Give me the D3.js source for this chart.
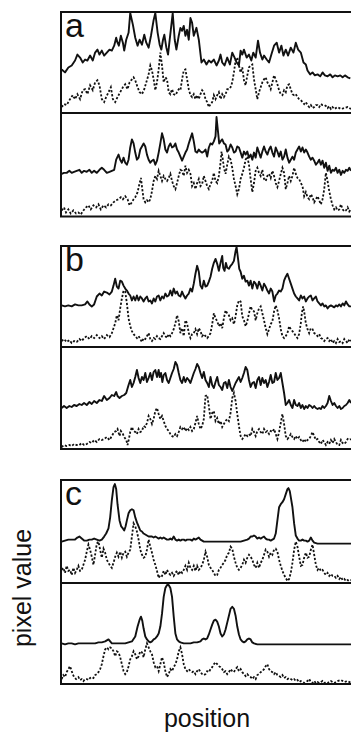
<!DOCTYPE html>
<html><head><meta charset="utf-8">
<script src="https://cdn.jsdelivr.net/npm/d3@7/dist/d3.min.js"></script>
<style>html,body{margin:0;padding:0;background:#fff;overflow:hidden}</style>
</head><body>
<script>
// ---- data: [position, pixel value] ----
const a1Solid = [[2,43],[12,40],[22,45],[32,47],[42,52],[49,58],[57,55],[65,50],[72,53],[79,52],[87,57],[95,52],[102,60],[109,63],[115,58],[122,62],[129,57],[137,60],[145,63],[152,62],[159,67],[165,75],[169,70],[173,67],[179,77],[185,70],[189,62],[195,73],[202,80],[207,100],[215,88],[222,75],[229,67],[235,73],[242,68],[249,78],[255,70],[262,65],[269,77],[277,93],[282,100],[289,80],[295,68],[300,63],[305,73],[309,78],[315,65],[320,58],[325,73],[329,85],[334,100],[340,73],[345,63],[352,77],[357,85],[362,82],[367,87],[372,77],[377,83],[382,73],[387,95],[392,90],[397,77],[405,85],[412,73],[420,50],[427,53],[435,48],[442,52],[449,50],[457,53],[465,47],[472,52],[477,58],[482,50],[489,47],[497,55],[505,48],[512,60],[519,55],[525,50],[532,47],[537,62],[542,58],[547,63],[555,55],[562,58],[569,52],[575,60],[582,55],[589,72],[595,60],[602,53],[607,57],[615,53],[622,50],[629,58],[637,67],[645,70],[652,60],[659,67],[665,57],[672,63],[679,57],[687,65],[695,60],[702,70],[709,63],[717,60],[725,50],[732,48],[737,42],[745,38],[752,40],[759,37],[767,38],[775,36],[782,40],[789,37],[797,36],[805,38],[812,35],[819,37],[827,36],[835,37],[842,35],[849,37],[857,35],[865,34]];
const a1Dotted = [[2,5],[9,8],[17,7],[27,13],[35,17],[42,13],[49,18],[57,13],[65,22],[72,23],[79,18],[87,27],[95,22],[102,30],[109,32],[115,27],[122,13],[129,10],[135,15],[142,20],[149,25],[155,13],[162,10],[169,15],[177,20],[185,25],[192,28],[199,23],[205,30],[212,33],[217,35],[222,32],[229,25],[235,20],[242,18],[249,23],[255,30],[262,38],[267,47],[272,42],[277,33],[282,22],[287,30],[292,43],[297,60],[302,47],[307,30],[312,35],[317,33],[322,20],[327,18],[332,23],[337,18],[342,17],[347,20],[352,23],[357,22],[362,33],[367,42],[372,43],[377,33],[382,23],[387,17],[392,15],[397,18],[402,13],[407,17],[412,13],[417,18],[422,22],[427,20],[432,13],[437,10],[442,5],[447,8],[452,10],[457,17],[462,13],[467,17],[472,20],[477,13],[482,18],[487,15],[492,18],[497,23],[502,23],[507,25],[512,30],[517,40],[522,52],[527,55],[532,47],[537,40],[542,45],[547,32],[552,27],[557,37],[562,45],[567,47],[572,48],[577,33],[582,23],[587,13],[592,20],[597,25],[602,30],[607,33],[612,35],[617,30],[622,27],[627,23],[632,30],[637,37],[642,33],[647,28],[652,22],[657,18],[662,17],[667,22],[672,20],[677,27],[682,28],[687,23],[692,18],[697,17],[702,18],[707,15],[712,13],[717,12],[722,10],[727,8],[732,10],[737,7],[742,5],[747,7],[752,4],[757,5],[762,7],[767,7],[772,5],[777,8],[782,7],[787,7],[792,6],[797,4],[802,6],[807,3],[812,5],[817,3],[827,5],[837,3],[847,4],[857,5],[867,3]];
const a2Solid = [[2,41],[9,42],[17,42],[25,44],[32,42],[39,43],[47,44],[55,45],[62,42],[69,44],[77,43],[85,45],[92,42],[99,44],[107,42],[115,45],[122,47],[129,45],[137,42],[145,43],[152,44],[159,45],[165,55],[172,60],[177,55],[182,52],[187,57],[192,52],[197,50],[202,55],[207,67],[212,75],[217,71],[222,62],[227,55],[232,57],[237,65],[242,68],[247,71],[252,68],[257,60],[262,55],[267,52],[272,54],[277,55],[282,50],[287,54],[292,62],[297,71],[302,81],[307,75],[312,65],[317,62],[322,68],[327,71],[332,67],[337,68],[342,71],[347,65],[352,62],[357,58],[362,54],[367,58],[372,62],[377,65],[382,71],[387,76],[392,81],[397,73],[402,63],[407,62],[412,65],[417,63],[422,62],[427,63],[432,65],[437,58],[442,67],[447,71],[452,70],[457,73],[462,78],[465,97],[469,84],[473,71],[477,73],[482,75],[487,71],[492,70],[497,63],[502,65],[507,70],[512,67],[517,62],[522,63],[527,68],[532,67],[537,62],[542,57],[547,63],[552,60],[557,63],[562,57],[567,60],[572,55],[577,62],[582,57],[587,67],[592,62],[597,57],[602,63],[607,68],[612,63],[617,60],[622,65],[627,68],[632,62],[637,58],[642,67],[647,63],[652,58],[657,63],[662,55],[667,58],[672,65],[677,57],[682,52],[687,55],[692,58],[697,55],[702,62],[707,65],[712,68],[717,63],[722,67],[727,62],[732,65],[737,62],[742,58],[747,55],[752,57],[757,54],[762,50],[767,52],[772,55],[777,50],[782,54],[787,47],[792,52],[797,44],[802,49],[807,42],[812,45],[817,44],[822,47],[827,42],[832,45],[837,40],[842,44],[847,42],[852,45],[857,44],[862,47],[867,44]];
const a2Dotted = [[2,5],[9,8],[15,3],[22,6],[29,2],[37,5],[45,2],[52,3],[59,1],[67,5],[75,8],[82,10],[89,6],[97,10],[105,8],[112,11],[119,6],[127,10],[135,8],[142,11],[149,10],[157,13],[165,15],[172,16],[179,18],[185,16],[192,19],[199,16],[205,10],[212,13],[217,16],[222,18],[229,23],[235,32],[239,37],[243,26],[247,16],[252,13],[257,15],[262,13],[267,16],[272,24],[277,34],[282,39],[287,36],[292,44],[297,39],[302,34],[307,39],[312,36],[317,34],[322,37],[327,41],[332,34],[337,29],[342,26],[347,32],[352,39],[357,45],[362,44],[367,39],[372,49],[377,42],[382,45],[387,41],[392,29],[397,32],[402,26],[407,32],[412,36],[417,29],[422,31],[427,39],[432,34],[437,29],[442,26],[447,31],[452,34],[457,42],[462,34],[467,32],[472,39],[477,52],[480,63],[484,55],[487,47],[492,41],[497,50],[502,58],[507,55],[512,47],[517,36],[522,29],[527,21],[532,26],[537,36],[542,41],[547,47],[552,55],[557,58],[562,50],[567,36],[572,23],[577,32],[582,44],[587,47],[592,42],[597,39],[602,45],[607,36],[612,34],[617,39],[622,41],[627,37],[632,44],[637,39],[642,32],[647,28],[652,34],[657,41],[662,47],[667,42],[672,26],[677,32],[682,39],[687,34],[692,39],[697,47],[702,41],[707,37],[712,36],[717,32],[722,29],[727,19],[732,23],[737,18],[742,16],[747,21],[752,18],[757,13],[762,16],[767,19],[772,15],[777,11],[782,16],[787,26],[792,42],[797,34],[802,24],[807,16],[812,10],[817,6],[822,8],[827,5],[832,6],[837,11],[842,6],[847,4],[852,5],[857,8],[862,4],[867,6]];
const b1Solid = [[2,41],[12,40],[22,41],[32,40],[42,42],[52,41],[62,41],[72,42],[79,45],[85,42],[92,40],[99,42],[107,50],[115,53],[122,51],[129,55],[137,54],[145,52],[152,55],[157,61],[162,68],[167,60],[172,58],[177,66],[182,65],[187,61],[192,58],[197,56],[202,53],[207,51],[212,46],[217,50],[222,46],[227,51],[232,46],[237,50],[242,48],[247,45],[252,48],[257,50],[262,45],[267,46],[272,43],[277,48],[282,45],[287,50],[292,51],[297,46],[302,50],[307,48],[312,53],[317,50],[322,51],[327,56],[332,51],[337,58],[342,53],[347,55],[352,51],[357,50],[362,55],[367,51],[372,48],[377,51],[382,53],[387,58],[392,55],[397,63],[402,73],[407,81],[412,75],[417,61],[422,58],[427,66],[432,60],[437,61],[442,65],[447,70],[452,78],[457,84],[462,88],[467,83],[472,76],[477,84],[482,91],[485,79],[489,76],[493,84],[497,79],[502,78],[507,81],[512,83],[517,86],[522,96],[525,100],[529,89],[533,78],[537,75],[542,68],[547,71],[552,65],[557,66],[562,61],[567,66],[572,58],[577,65],[582,63],[587,58],[592,65],[597,61],[602,56],[607,63],[612,60],[617,56],[622,53],[627,58],[632,55],[637,45],[642,51],[647,53],[652,56],[657,55],[662,58],[667,66],[672,70],[677,73],[682,68],[687,63],[692,58],[697,53],[702,50],[707,48],[712,46],[717,51],[722,48],[727,50],[732,45],[737,48],[742,50],[747,51],[752,46],[757,48],[762,50],[767,45],[772,43],[777,41],[782,43],[787,40],[792,41],[797,38],[802,40],[807,41],[812,40],[817,39],[822,41],[827,40],[832,42],[837,40],[842,43],[847,41],[852,45],[857,42],[862,40],[867,40]];
const b1Dotted = [[2,5],[9,7],[17,4],[25,6],[32,3],[39,5],[47,4],[55,7],[62,5],[69,8],[77,10],[85,7],[92,10],[99,8],[107,11],[115,8],[122,10],[129,7],[137,11],[145,9],[152,13],[157,18],[162,23],[167,31],[172,26],[177,38],[182,48],[187,56],[192,55],[197,43],[202,28],[207,20],[212,15],[217,12],[222,10],[227,8],[232,10],[237,7],[242,4],[247,8],[252,7],[257,10],[262,13],[267,7],[272,5],[277,8],[282,7],[287,10],[292,8],[297,7],[302,10],[307,13],[312,10],[317,8],[322,12],[327,10],[332,13],[337,17],[342,23],[347,31],[352,25],[357,13],[362,18],[367,10],[372,26],[377,23],[382,13],[387,8],[392,12],[397,13],[402,17],[407,12],[412,18],[417,15],[422,10],[427,12],[432,10],[437,8],[442,10],[447,13],[452,22],[457,33],[462,28],[467,25],[472,20],[477,23],[482,18],[487,28],[492,36],[497,33],[502,31],[507,26],[512,28],[517,22],[522,30],[527,41],[532,46],[537,45],[542,30],[547,26],[552,20],[557,25],[562,33],[567,40],[572,36],[577,35],[582,26],[587,33],[592,38],[597,40],[602,33],[607,26],[612,18],[617,12],[622,17],[627,22],[632,25],[637,35],[642,41],[647,36],[652,28],[657,17],[662,10],[667,8],[672,10],[677,13],[682,20],[687,17],[692,15],[697,13],[702,10],[707,8],[712,12],[717,23],[720,33],[724,40],[727,35],[732,23],[737,17],[742,13],[747,18],[752,17],[757,13],[762,12],[767,10],[772,12],[777,8],[782,7],[787,5],[792,7],[797,8],[802,5],[807,7],[812,3],[817,5],[822,3],[827,7],[832,4],[837,5],[842,3],[847,7],[852,5],[857,3],[862,7],[867,5]];
const b2Solid = [[2,40],[9,42],[17,40],[25,42],[32,41],[39,43],[47,42],[55,44],[62,43],[69,45],[77,43],[85,46],[92,44],[99,47],[107,45],[115,48],[122,47],[129,52],[137,48],[145,50],[152,53],[159,52],[165,56],[169,52],[175,50],[182,52],[189,53],[195,55],[202,63],[207,68],[212,61],[217,65],[222,71],[227,78],[232,70],[237,65],[242,71],[247,68],[252,75],[257,66],[262,70],[267,75],[272,68],[277,76],[282,78],[287,71],[292,78],[295,71],[299,75],[303,66],[307,73],[312,75],[317,68],[322,65],[327,70],[332,75],[337,79],[342,86],[347,83],[352,75],[357,68],[362,65],[367,71],[372,66],[377,70],[382,68],[387,65],[392,70],[397,75],[402,79],[407,84],[412,81],[417,75],[422,70],[427,76],[432,68],[437,65],[442,61],[447,71],[452,63],[457,60],[462,66],[467,71],[472,63],[477,61],[482,58],[487,65],[492,66],[497,60],[502,68],[507,61],[512,57],[517,61],[522,65],[527,68],[532,71],[537,66],[542,70],[547,75],[552,81],[557,78],[562,68],[567,61],[572,65],[577,66],[582,60],[587,68],[592,71],[597,63],[602,70],[607,65],[612,68],[617,61],[622,66],[627,73],[632,65],[637,66],[642,75],[647,68],[652,70],[657,75],[662,65],[667,55],[672,43],[677,45],[682,48],[687,43],[692,40],[697,48],[702,43],[707,42],[712,45],[717,40],[722,43],[727,39],[732,42],[737,40],[742,43],[747,42],[752,40],[757,42],[762,40],[767,39],[772,40],[777,39],[782,42],[787,40],[792,42],[797,45],[802,52],[807,47],[812,43],[817,45],[822,42],[827,40],[832,42],[837,39],[842,40],[847,42],[852,43],[857,45],[862,48],[867,45]];
const b2Dotted = [[2,1],[9,3],[17,2],[25,3],[32,2],[39,4],[47,3],[55,3],[62,5],[69,3],[77,4],[85,6],[92,5],[99,8],[107,6],[115,9],[122,8],[129,9],[137,11],[145,8],[152,12],[159,16],[165,17],[169,19],[175,12],[179,17],[185,14],[189,11],[195,8],[199,3],[203,9],[207,16],[212,21],[217,17],[222,16],[227,14],[232,19],[237,16],[242,17],[247,22],[252,21],[257,25],[262,32],[267,29],[272,24],[277,29],[282,37],[287,40],[292,34],[297,29],[302,32],[307,27],[312,22],[317,19],[322,17],[327,14],[332,12],[337,11],[342,14],[347,12],[352,16],[357,21],[362,19],[367,21],[372,17],[377,20],[382,18],[387,21],[392,17],[397,19],[402,25],[407,32],[412,24],[417,19],[422,22],[427,29],[432,52],[437,53],[442,42],[447,29],[452,35],[457,37],[462,27],[467,30],[472,24],[477,27],[482,21],[487,24],[492,27],[497,29],[502,27],[507,35],[512,50],[517,55],[522,47],[527,34],[532,22],[537,12],[542,9],[547,11],[552,14],[557,12],[562,14],[567,12],[572,19],[577,16],[582,12],[587,17],[592,19],[597,16],[602,14],[607,19],[612,16],[617,17],[622,14],[627,17],[632,16],[637,19],[642,14],[647,9],[652,16],[657,25],[662,34],[667,24],[672,12],[677,9],[682,11],[687,14],[692,11],[697,9],[702,12],[707,9],[712,11],[717,8],[722,6],[727,9],[732,6],[737,8],[742,9],[747,12],[752,16],[757,12],[762,8],[767,9],[772,6],[777,4],[782,8],[787,6],[792,3],[797,6],[802,4],[807,8],[812,5],[817,9],[822,6],[827,3],[832,3],[837,8],[842,5],[847,4],[852,6],[857,9],[862,8],[867,9]];
const c1Solid = [[2,40],[12,41],[22,42],[32,42],[42,42],[49,44],[55,45],[62,43],[69,41],[77,41],[85,42],[92,42],[99,43],[107,42],[115,41],[122,42],[129,45],[135,48],[142,53],[147,64],[152,81],[157,94],[161,97],[165,92],[169,77],[175,61],[180,55],[185,53],[189,51],[193,55],[197,61],[202,68],[207,71],[212,72],[217,71],[222,64],[227,59],[232,55],[237,51],[242,50],[247,48],[252,47],[257,46],[262,45],[267,45],[272,45],[277,44],[282,45],[287,44],[292,43],[297,44],[302,43],[307,44],[312,43],[317,42],[322,42],[327,43],[332,42],[337,45],[342,42],[347,41],[352,42],[357,41],[362,42],[367,42],[372,41],[377,42],[382,42],[387,42],[392,41],[397,43],[402,42],[407,43],[412,44],[417,42],[422,41],[427,40],[437,40],[447,40],[457,40],[467,40],[477,40],[487,40],[497,40],[507,40],[517,40],[527,40],[537,40],[547,41],[557,42],[562,43],[567,45],[572,45],[577,46],[582,45],[587,43],[592,44],[597,43],[602,44],[607,45],[612,43],[617,42],[622,42],[627,41],[632,42],[637,43],[642,48],[647,61],[652,74],[657,77],[662,79],[667,82],[672,87],[677,92],[680,93],[684,90],[687,84],[692,74],[697,58],[702,46],[707,43],[712,41],[717,41],[722,42],[727,41],[732,41],[737,40],[742,41],[747,44],[752,41],[757,39],[767,38],[777,38],[787,38],[797,38],[807,38],[817,38],[827,38],[837,38],[847,38],[857,38],[867,38]];
const c1Dotted = [[2,12],[7,14],[12,9],[17,16],[22,11],[27,12],[32,7],[37,14],[42,9],[47,12],[52,16],[57,11],[62,12],[67,17],[72,22],[77,30],[82,37],[87,32],[92,25],[97,17],[102,27],[107,38],[112,40],[117,32],[122,24],[127,33],[132,29],[137,22],[142,19],[147,16],[152,14],[157,19],[162,25],[167,29],[172,25],[177,30],[182,24],[187,29],[192,30],[197,25],[202,29],[207,32],[212,45],[217,58],[222,55],[227,50],[232,42],[237,32],[242,27],[247,24],[252,25],[257,32],[262,42],[267,35],[272,29],[277,22],[282,17],[287,11],[292,4],[297,7],[302,6],[307,11],[312,7],[317,12],[322,9],[327,7],[332,9],[337,6],[342,9],[347,11],[352,7],[357,11],[362,9],[367,12],[372,16],[377,12],[382,19],[387,14],[392,12],[397,16],[402,11],[407,16],[412,12],[417,14],[422,17],[427,22],[432,30],[437,25],[442,17],[447,14],[452,12],[457,9],[462,6],[467,7],[472,12],[477,14],[482,17],[487,19],[492,22],[497,27],[502,29],[507,35],[512,33],[517,25],[522,19],[527,14],[532,12],[537,14],[542,17],[547,22],[552,19],[557,24],[562,27],[567,25],[572,22],[577,17],[582,14],[587,19],[592,14],[597,19],[602,22],[607,27],[612,32],[617,30],[622,25],[627,29],[632,27],[637,32],[642,33],[647,30],[652,22],[657,16],[662,11],[667,7],[672,4],[677,1],[682,3],[687,9],[692,19],[697,32],[702,40],[707,35],[712,25],[717,16],[722,17],[727,24],[732,29],[737,24],[742,25],[747,32],[752,37],[757,27],[762,17],[767,12],[772,14],[777,11],[782,12],[787,9],[792,7],[797,9],[802,6],[807,8],[812,6],[817,6],[822,4],[827,6],[832,3],[837,5],[842,2],[847,3],[852,1],[857,2],[862,1],[867,2]];
const c2Solid = [[2,40],[12,39],[22,40],[32,40],[42,39],[52,40],[62,40],[72,40],[82,40],[92,40],[102,40],[112,41],[122,41],[132,42],[137,43],[142,44],[147,42],[152,40],[162,40],[172,40],[182,40],[192,40],[202,41],[212,42],[222,47],[229,57],[235,64],[239,67],[243,63],[247,55],[252,47],[257,44],[262,42],[267,41],[272,42],[277,44],[282,45],[287,47],[292,50],[297,57],[302,70],[307,87],[312,96],[317,99],[322,99],[327,96],[332,87],[337,67],[342,50],[347,44],[352,42],[357,41],[367,40],[377,40],[387,40],[397,41],[407,41],[417,42],[422,44],[427,45],[432,44],[437,45],[442,49],[447,54],[452,59],[457,63],[462,64],[467,62],[472,57],[477,50],[482,47],[487,49],[492,54],[497,61],[502,68],[507,75],[512,77],[517,75],[522,68],[527,57],[532,49],[537,44],[542,42],[547,41],[552,42],[557,44],[562,45],[567,44],[572,41],[577,40],[587,39],[597,39],[617,39],[637,39],[657,39],[677,39],[697,39],[717,39],[737,39],[757,39],[777,39],[797,39],[817,39],[837,39],[867,39]];
const c2Dotted = [[2,4],[7,8],[12,6],[17,11],[22,14],[27,17],[30,14],[35,9],[39,6],[45,4],[52,6],[57,3],[62,4],[67,2],[72,4],[77,4],[82,3],[87,5],[92,6],[97,5],[102,8],[107,9],[112,11],[117,14],[122,19],[127,27],[132,34],[137,36],[142,34],[147,36],[152,35],[157,32],[162,27],[167,32],[172,31],[177,26],[182,19],[187,12],[192,9],[197,11],[202,17],[207,24],[212,27],[217,32],[222,29],[227,24],[232,27],[237,32],[242,31],[247,26],[252,34],[257,40],[262,36],[267,32],[272,29],[277,21],[282,16],[287,17],[292,12],[297,19],[302,26],[307,21],[312,12],[317,6],[322,9],[327,14],[332,12],[337,16],[342,19],[347,24],[352,32],[357,36],[362,29],[367,19],[372,14],[377,12],[382,14],[387,12],[392,11],[397,12],[402,9],[407,12],[412,14],[417,11],[422,9],[427,8],[432,9],[437,12],[442,11],[447,14],[452,16],[457,19],[462,21],[467,19],[472,17],[477,16],[482,14],[487,11],[492,12],[497,9],[502,11],[507,14],[512,12],[517,11],[522,14],[527,16],[532,12],[537,14],[542,11],[547,9],[552,7],[557,9],[562,7],[567,6],[572,4],[577,6],[582,4],[587,8],[592,9],[597,11],[602,12],[607,14],[612,17],[617,19],[622,14],[627,12],[632,11],[637,9],[642,11],[647,8],[652,7],[657,6],[662,8],[667,5],[672,6],[677,4],[682,5],[687,4],[692,3],[697,4],[702,2],[707,3],[712,1],[717,2],[722,1],[727,0],[732,1],[737,2],[742,4],[747,1],[752,0],[757,2],[762,0],[767,1],[772,0],[777,1],[782,2],[787,0],[792,1],[797,0],[802,1],[807,2],[812,1],[817,0],[827,2],[837,3],[847,1],[857,2],[867,0]];

const groupLabels = ["a", "b", "c"];
const xTitle = "position";
const yTitle = "pixel value";

// ---- layout ----
const W = 351, H = 735;
const groups = [
  {label: groupLabels[0], top: 12,  mid: 113, bottom: 216.5, panels: [[a1Solid, a1Dotted], [a2Solid, a2Dotted]]},
  {label: groupLabels[1], top: 246, mid: 347, bottom: 449,   panels: [[b1Solid, b1Dotted], [b2Solid, b2Dotted]]},
  {label: groupLabels[2], top: 480, mid: 583, bottom: 684,   panels: [[c1Solid, c1Dotted], [c2Solid, c2Dotted]]}
];
const left = 61, right = 356;

const svg = d3.select("body").append("svg")
  .attr("width", W).attr("height", H)
  .style("font-family", "'Liberation Sans', Arial, Helvetica, sans-serif");

const x = d3.scaleLinear().domain([0, 882]).range([left, right]);

groups.forEach((g, gi) => {
  const bands = [[g.top, g.mid], [g.mid, g.bottom]];
  bands.forEach((band, pi) => {
    const y = d3.scaleLinear().domain([0, 100]).range([band[1] - 1, band[0] + 1]);
    const clipId = `clip-${gi}-${pi}`;
    svg.append("clipPath").attr("id", clipId)
      .append("rect").attr("x", left).attr("y", band[0]).attr("width", right - left).attr("height", band[1] - band[0]);
    const line = d3.line().x(d => x(d[0])).y(d => y(d[1]));
    const [solid, dotted] = g.panels[pi];
    const gp = svg.append("g").attr("clip-path", `url(#${clipId})`);
    gp.append("path").datum(dotted).attr("d", line)
      .attr("fill", "none").attr("stroke", "#111").attr("stroke-width", 1.8)
      .attr("stroke-dasharray", "2.2,1.8");
    gp.append("path").datum(solid).attr("d", line)
      .attr("fill", "none").attr("stroke", "#111").attr("stroke-width", 1.9)
      .attr("stroke-linejoin", "round");
  });
  // frame
  svg.append("rect").attr("x", left).attr("y", g.top)
    .attr("width", right - left + 5).attr("height", g.bottom - g.top)
    .attr("fill", "none").attr("stroke", "#111").attr("stroke-width", 2);
  svg.append("line").attr("x1", left).attr("x2", right + 5)
    .attr("y1", g.mid).attr("y2", g.mid)
    .attr("stroke", "#111").attr("stroke-width", 2);
  svg.append("text").attr("x", 65).attr("y", g.top + 25)
    .attr("font-size", 34).attr("fill", "#111").text(g.label);
});

svg.append("text").attr("x", 207).attr("y", 727)
  .attr("text-anchor", "middle").attr("font-size", 25).attr("fill", "#111").text(xTitle);
svg.append("text").attr("transform", "translate(31,588) rotate(-90)")
  .attr("text-anchor", "middle").attr("font-size", 25).attr("fill", "#111").text(yTitle);
</script>
</body></html>
